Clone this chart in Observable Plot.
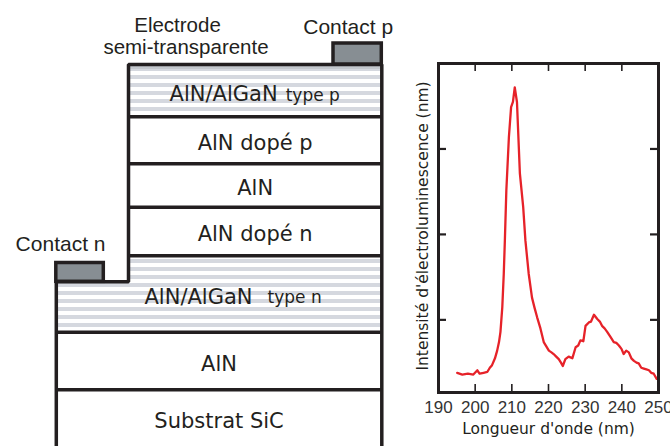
<!DOCTYPE html>
<html><head><meta charset="utf-8">
<script src="https://cdn.jsdelivr.net/npm/d3@7"></script>
<script src="https://cdn.jsdelivr.net/npm/@observablehq/plot@0.6"></script>
<style>
body{margin:0;background:#fff;}
#wrap{position:relative;width:670px;height:446px;overflow:hidden;background:#fff;}
#left{position:absolute;left:0;top:0;}
#right{position:absolute;left:400px;top:0;}
</style></head><body><div id="wrap"><div id="left"></div><div id="right"></div></div>
<script>
// ---------- Device structure (left) ----------
const layerLabels = ["", "AlN/AlGaN", "AlN dopé p", "AlN", "AlN dopé n", "AlN/AlGaN", "AlN", "Substrat SiC"];
const layerTags   = ["", "type p", "", "", "", "type n", "", ""];
const layerKind   = ["electrode", "superlattice", "bulk", "bulk", "bulk", "superlattice", "bulk", "bulk"];
const layerTop    = [64, 66, 116.3, 163.3, 206.7, 255.3, 331.7, 389.3];
const layerBottom = [66, 116.3, 163.3, 206.7, 255.3, 331.7, 389.3, 446];
const layerLeft   = [128, 128, 128, 128, 128, 55.8, 55.8, 55.8];
const layerRight  = [381.3, 381.3, 381.3, 381.3, 381.3, 381.3, 381.3, 381.3];
const stepDepth = 281.3;

const contactLabels = ["Contact p", "Contact n"];
const contactLeft   = [333, 55.8];
const contactRight  = [381.3, 103.3];
const contactTop    = [43, 262.5];
const contactBottom = [64, 281.3];

// ---------- Spectrum (right) ----------
const wavelength = [195.1,196.5,198,199.5,200.6,201.2,202.3,203.3,204,204.6,205.4,206,206.5,206.9,207.4,207.8,208.1,208.5,209.2,209.8,210.3,210.8,211.4,212.2,213.1,213.7,214.6,215.5,216.2,216.9,217.8,218.7,219.4,220.1,220.8,221.4,222.1,222.8,223.4,223.9,224.6,225.5,226.5,227.4,228.1,228.7,229.5,230.1,231.0,231.6,232.4,233.3,234.0,234.6,235.3,236.0,236.9,237.8,238.5,239.2,239.9,240.5,241.2,241.9,242.6,243.3,244.0,244.6,245.3,246.0,246.7,247.4,248.0,248.7,249.5];
const intensity  = [0.38,0.36,0.37,0.36,0.41,0.37,0.38,0.39,0.44,0.47,0.55,0.64,0.74,0.86,1.15,1.54,1.93,2.51,3.14,3.49,3.55,3.72,3.55,2.71,2.32,1.93,1.54,1.26,1.14,1.03,0.90,0.74,0.69,0.64,0.62,0.60,0.57,0.54,0.50,0.46,0.54,0.57,0.55,0.68,0.70,0.76,0.75,0.93,0.97,0.98,1.06,1.01,0.98,0.93,0.90,0.86,0.80,0.74,0.73,0.70,0.66,0.60,0.64,0.62,0.55,0.52,0.50,0.49,0.44,0.43,0.42,0.41,0.38,0.37,0.31];
const xTickLabels = [190, 200, 210, 220, 230, 240, 250];
const innerXTicks = [200, 210, 220, 230, 240];
const yTicks = [1, 2, 3];

const INK = "#231f20";
const LAYER_FONT = "'DejaVu Sans', Verdana, sans-serif";
const NOTE_FONT = "'Liberation Sans', Arial, sans-serif";

const layers = layerLabels.map((label, i) => ({
  label, tag: layerTags[i], kind: layerKind[i],
  top: layerTop[i], bottom: layerBottom[i], left: layerLeft[i], right: layerRight[i],
  lineLeft: i > 0 ? Math.max(layerLeft[i], layerLeft[i - 1]) : layerLeft[i]
}));
const contacts = contactLabels.map((label, i) => ({
  label, left: contactLeft[i], right: contactRight[i], top: contactTop[i], bottom: contactBottom[i]
}));
const upper = layers[0], lowerSL = layers[5];
const outline = [
  [lowerSL.left, 446], [lowerSL.left, stepDepth], [upper.left, stepDepth],
  [upper.left, upper.top], [upper.right, upper.top], [upper.right, 446]
];
const cx = d => (d.left + d.right) / 2;
const cy = d => (d.top + d.bottom) / 2;

const left = Plot.plot({
  width: 400, height: 446, margin: 0,
  style: {background: "transparent", overflow: "visible"},
  x: {domain: [0, 400], range: [0, 400], axis: null},
  y: {domain: [0, 446], range: [0, 446], axis: null},
  marks: [
    Plot.rect(layers.filter(d => d.kind === "bulk"), {x1: "left", x2: "right", y1: "top", y2: "bottom", fill: "white"}),
    Plot.rect(layers.filter(d => d.kind === "superlattice"), {x1: "left", x2: "right", y1: "top", y2: "bottom", fill: "url(#stripes)"}),
    Plot.rect(layers.filter(d => d.kind === "electrode"), {x1: "left", x2: "right", y1: "top", y2: d => d.bottom + 3, fill: "#c3c7cd"}),
    Plot.rect([lowerSL], {x1: d => d.left - 3, x2: () => upper.left, y1: d => d.top - 1, y2: () => stepDepth, fill: "white"}),
    Plot.ruleY(layers.filter((d, i) => i >= 2), {y: "top", x1: "lineLeft", x2: "right", stroke: INK, strokeWidth: 3.5}),
    Plot.line(outline, {x: d => d[0], y: d => d[1], stroke: INK, strokeWidth: 3.5, strokeLinejoin: "miter"}),
    Plot.rect(contacts, {x1: "left", x2: "right", y1: "top", y2: "bottom", fill: "#878e93", stroke: INK, strokeWidth: 3.5}),
    // layer labels
    Plot.text(layers.filter(d => d.kind === "bulk"), {x: cx, y: cy, text: "label", dy: 3, fontFamily: LAYER_FONT, fontSize: 21, fill: INK}),
    Plot.text([layers[1]], {x: cx, y: cy, text: "label", textAnchor: "end", dx: 22.5, dy: 3, fontFamily: LAYER_FONT, fontSize: 21, fill: INK}),
    Plot.text([layers[1]], {x: cx, y: cy, text: "tag", textAnchor: "start", dx: 30.5, dy: 4, fontFamily: LAYER_FONT, fontSize: 17, fill: INK}),
    Plot.text([layers[5]], {x: cx, y: cy, text: "label", textAnchor: "end", dx: 33.5, dy: 3, fontFamily: LAYER_FONT, fontSize: 21, fill: INK}),
    Plot.text([layers[5]], {x: cx, y: cy, text: "tag", textAnchor: "start", dx: 48.5, dy: 4, fontFamily: LAYER_FONT, fontSize: 17, fill: INK}),
    // annotations
    Plot.text([contacts[0]], {x: cx, y: "top", text: "label", dx: -9.5, dy: -16, fontFamily: NOTE_FONT, fontSize: 21, fill: INK}),
    Plot.text([contacts[1]], {x: cx, y: "top", text: "label", dx: -19.5, dy: -19.2, fontFamily: NOTE_FONT, fontSize: 21, fill: INK}),
    Plot.text(["Electrode"], {frameAnchor: "top-left", textAnchor: "middle", lineAnchor: "middle", dx: 177, dy: 25, fontFamily: NOTE_FONT, fontSize: 20.5, fill: INK}),
    Plot.text(["semi-transparente"], {frameAnchor: "top-left", textAnchor: "middle", lineAnchor: "middle", dx: 185.5, dy: 47, fontFamily: NOTE_FONT, fontSize: 20.5, fill: INK})
  ]
});
d3.select(left).insert("defs", ":first-child").html(
  '<pattern id="stripes" patternUnits="userSpaceOnUse" x="0" y="3" width="12" height="8">' +
  '<rect width="12" height="8" fill="white"/><rect width="12" height="4" fill="#d5d8df"/></pattern>'
);
document.getElementById("left").appendChild(left);

const spectrum = wavelength.map((wl, i) => ({wl, v: intensity[i]}));
const right = Plot.plot({
  width: 270, height: 446, marginLeft: 38, marginRight: 12, marginTop: 63, marginBottom: 54,
  style: {background: "transparent", overflow: "visible", fontFamily: "'Liberation Sans', Arial, sans-serif", fontSize: "17px", color: "#333"},
  x: {domain: [190, 250], ticks: xTickLabels, tickSize: 0, tickPadding: 8, label: null, tickFormat: d => String(d)},
  y: {domain: [0.15, 4], axis: null},
  marks: [
    Plot.line(spectrum, {x: "wl", y: "v", stroke: "#e62229", strokeWidth: 2.3}),
    Plot.ruleX(innerXTicks, {insetTop: 321, stroke: INK, strokeWidth: 1.6}),
    Plot.ruleX(innerXTicks, {insetBottom: 321, stroke: INK, strokeWidth: 1.6}),
    Plot.ruleY(yTicks, {insetRight: 212, stroke: INK, strokeWidth: 2.2}),
    Plot.ruleY(yTicks, {insetLeft: 212, stroke: INK, strokeWidth: 2.2}),
    Plot.frame({stroke: INK, strokeWidth: 3}),
    Plot.text(["Intensité d'électroluminescence (nm)"], {frameAnchor: "left", textAnchor: "middle", lineAnchor: "middle", rotate: -90, dx: -15, dy: -2, fontFamily: LAYER_FONT, fontSize: 15.5, fill: INK}),
    Plot.text(["Longueur d'onde (nm)"], {frameAnchor: "bottom", textAnchor: "middle", lineAnchor: "middle", dy: 37, fontFamily: LAYER_FONT, fontSize: 15.5, fill: INK})
  ]
});
document.getElementById("right").appendChild(right);
</script>
</body></html>
